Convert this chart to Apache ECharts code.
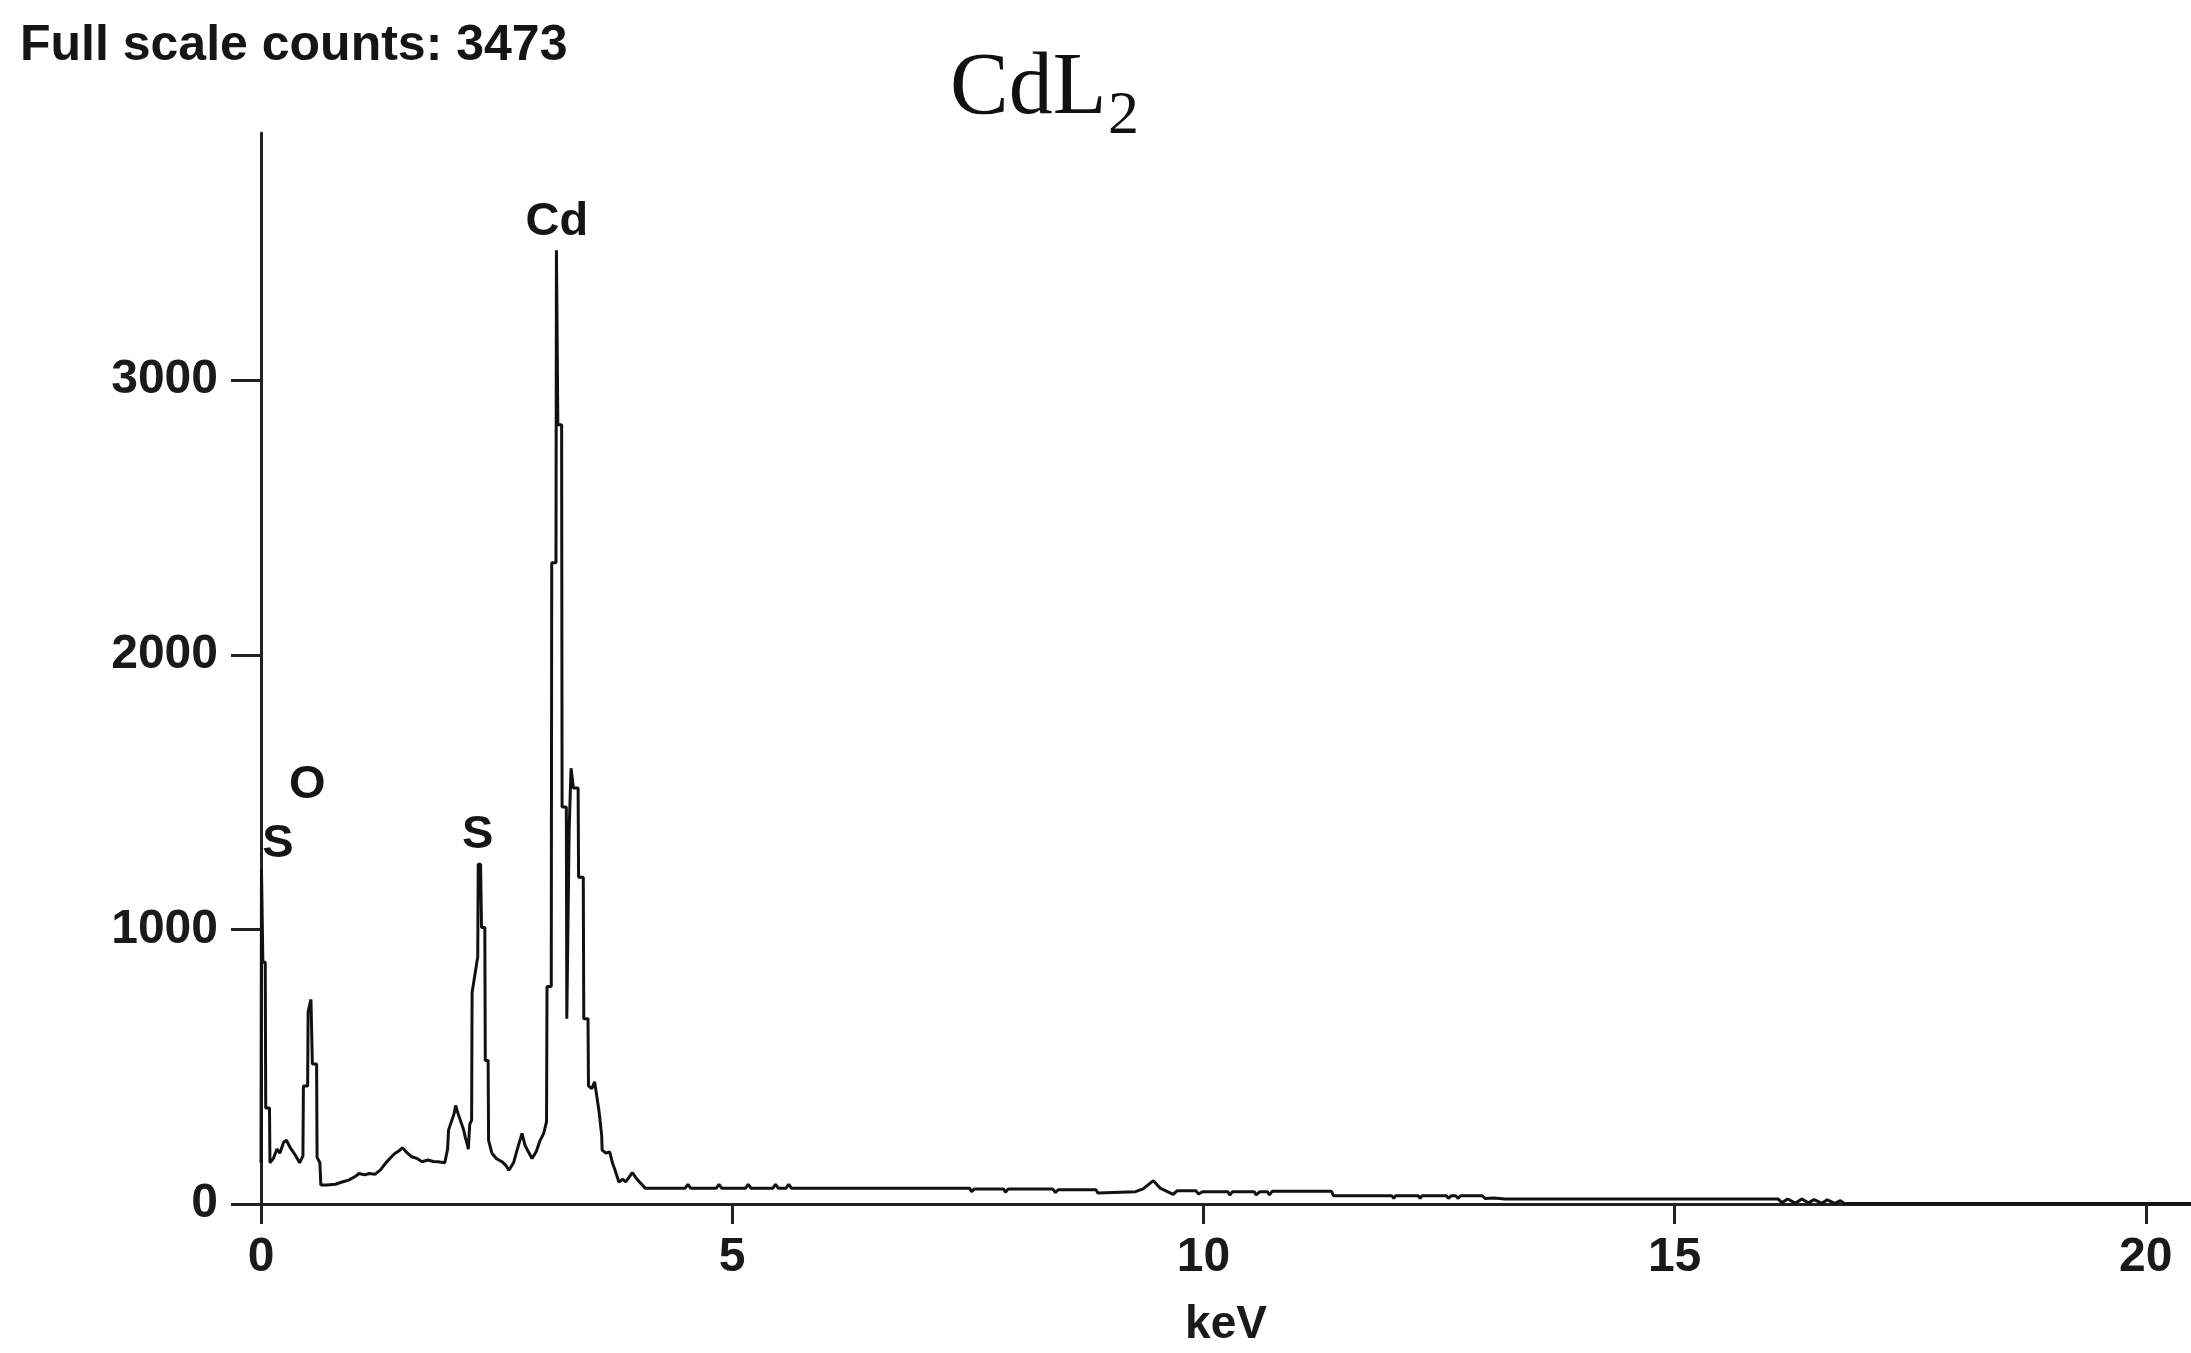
<!DOCTYPE html>
<html>
<head>
<meta charset="utf-8">
<script src="https://cdn.jsdelivr.net/npm/echarts@6/dist/echarts.min.js"></script>
<style>
  html, body { margin: 0; padding: 0; background: #fff; }
  #chart { width: 2191px; height: 1353px; }
</style>
</head>
<body>
<div id="chart"></div>
<script>
// EDS spectrum, energy (keV) vs counts
const energy = [
  0.000, 0.005, 0.015, 0.020, 0.045, 0.050, 0.090, 0.095, 0.130, 0.170,
  0.200, 0.240, 0.270, 0.310, 0.360, 0.410, 0.445, 0.450, 0.495, 0.500,
  0.530, 0.540, 0.545, 0.590, 0.595, 0.625, 0.635, 0.700, 0.790, 0.860,
  0.930, 1.000, 1.040, 1.100, 1.150, 1.210, 1.270, 1.320, 1.380, 1.420,
  1.470, 1.500, 1.540, 1.600, 1.660, 1.710, 1.770, 1.830, 1.880, 1.950,
  1.980, 1.990, 2.050, 2.065, 2.090, 2.120, 2.150, 2.170, 2.190, 2.200,
  2.215, 2.235, 2.240, 2.300, 2.305, 2.330, 2.340, 2.375, 2.380, 2.410,
  2.415, 2.450, 2.500, 2.557, 2.600, 2.630, 2.680, 2.720, 2.770, 2.800,
  2.830, 2.876, 2.920, 2.960, 3.000, 3.030, 3.035, 3.080, 3.085, 3.130,
  3.135, 3.145, 3.150, 3.190, 3.195, 3.240, 3.245, 3.265, 3.270, 3.285,
  3.290, 3.310, 3.315, 3.365, 3.370, 3.420, 3.425, 3.470, 3.475, 3.510,
  3.540, 3.560, 3.590, 3.615, 3.620, 3.660, 3.700, 3.730, 3.760, 3.797,
  3.840, 3.870, 3.910, 3.940, 3.980, 4.030, 4.080, 4.500, 4.530, 4.560,
  4.830, 4.860, 4.890, 5.140, 5.170, 5.200, 5.430, 5.460, 5.490, 5.570,
  5.600, 5.630, 7.520, 7.540, 7.570, 7.880, 7.900, 7.930, 8.400, 8.430,
  8.460, 8.860, 8.880, 8.900, 9.280, 9.360, 9.470, 9.540, 9.680, 9.720,
  9.920, 9.950, 9.990, 10.260, 10.280, 10.310, 10.540, 10.560, 10.600, 10.680,
  10.700, 10.730, 11.360, 11.380, 12.000, 12.020, 12.040, 12.280, 12.300, 12.320,
  12.580, 12.600, 12.630, 12.680, 12.700, 12.730, 12.960, 12.990, 13.080, 13.200,
  16.100, 16.140, 16.200, 16.280, 16.350, 16.420, 16.480, 16.560, 16.620, 16.700,
  16.760, 16.800, 20.480
];
const counts = [
  150, 1220, 1220, 880, 880, 350, 350, 150, 165, 200,
  185, 225, 232, 205, 180, 150, 175, 430, 430, 700,
  745, 745, 510, 510, 170, 150, 69, 69, 72, 80,
  87, 100, 111, 106, 111, 108, 125, 148, 170, 184,
  195, 205, 190, 172, 165, 154, 160, 155, 154, 150,
  200, 269, 330, 359, 330, 300, 270, 240, 215, 200,
  290, 305, 770, 900, 1237, 1237, 1007, 1007, 523, 523,
  232, 185, 165, 154, 140, 123, 150, 200, 257, 215,
  195, 166, 190, 230, 257, 300, 792, 792, 2335, 2335,
  3473, 3473, 2838, 2838, 1446, 1446, 675, 675, 1365, 1365,
  1587, 1587, 1515, 1515, 1190, 1190, 675, 675, 430, 420,
  445, 400, 330, 250, 196, 185, 190, 149, 120, 80,
  90, 81, 100, 114, 95, 75, 57, 57, 72, 57,
  57, 72, 57, 57, 72, 57, 57, 72, 57, 57,
  72, 57, 57, 45, 55, 55, 43, 55, 55, 42,
  52, 52, 40, 45, 45, 55, 85, 58, 35, 48,
  48, 36, 45, 45, 33, 45, 45, 33, 45, 45,
  33, 46, 46, 30, 30, 20, 30, 30, 20, 30,
  30, 20, 30, 30, 20, 30, 30, 20, 22, 18,
  18, 5, 18, 3, 18, 4, 16, 3, 15, 2,
  12, 2, 2
];

// peak labels: name, keV, counts (label centre)
const peakNames = ['S', 'O', 'S', 'Cd'];
const peakEnergy = [0.18, 0.49, 2.30, 3.14];
const peakCounts = [1310, 1525, 1345, 3575];

const xTicks = [0, 5, 10, 15, 20];
const yTicks = [0, 1000, 2000, 3000];

const spectrum = energy.map((e, i) => [e, counts[i]]);
const peaks = peakNames.map((n, i) => ({ name: n, value: [peakEnergy[i], peakCounts[i]] }));

const chart = echarts.init(document.getElementById('chart'));
const sans = '"Liberation Sans", Arial, sans-serif';
const serif = '"Liberation Serif", "Times New Roman", serif';
const axisColor = '#222';

chart.setOption({
  backgroundColor: '#ffffff',
  animation: false,
  graphic: [
    {
      type: 'text', left: 20, top: 21,
      style: { text: 'Full scale counts: 3473', fontFamily: sans, fontWeight: 'bold', fontSize: 50, fill: '#151515' }
    },
    {
      type: 'text', left: 950, top: 46,
      style: { text: 'CdL', fontFamily: serif, fontSize: 88, fill: '#111' }
    },
    {
      type: 'text', left: 1108, top: 86,
      style: { text: '2', fontFamily: serif, fontSize: 62, fill: '#111' }
    }
  ],
  grid: { left: 261, right: 0, top: 133, bottom: 148 },
  xAxis: {
    type: 'value',
    min: 0,
    max: 20.48,
    interval: 5,
    name: 'keV',
    nameLocation: 'middle',
    nameGap: 98,
    nameTextStyle: { fontFamily: sans, fontWeight: 'bold', fontSize: 46, color: '#1a1a1a' },
    axisLine: { onZero: false, lineStyle: { color: axisColor, width: 3 } },
    axisTick: { length: 20, customValues: xTicks, lineStyle: { color: axisColor, width: 3 } },
    axisLabel: {
      margin: 30, customValues: xTicks, formatter: v => String(v),
      fontFamily: sans, fontWeight: 'bold', fontSize: 48, color: '#1a1a1a'
    },
    splitLine: { show: false }
  },
  yAxis: {
    type: 'value',
    min: 0,
    max: 3900,
    interval: 1000,
    axisLine: { show: true, lineStyle: { color: axisColor, width: 3 } },
    axisTick: { show: true, length: 30, customValues: yTicks, lineStyle: { color: axisColor, width: 3 } },
    axisLabel: {
      margin: 43, customValues: yTicks, formatter: v => String(v),
      fontFamily: sans, fontWeight: 'bold', fontSize: 48, color: '#1a1a1a'
    },
    splitLine: { show: false }
  },
  series: [
    {
      type: 'line',
      data: spectrum,
      showSymbol: false,
      symbol: 'none',
      lineStyle: { color: '#111', width: 3 },
      z: 3
    },
    {
      type: 'scatter',
      data: peaks,
      symbolSize: 0,
      itemStyle: { color: '#111', opacity: 1 },
      label: {
        show: true, position: [0, 0], align: 'center', verticalAlign: 'middle', formatter: '{b}',
        fontFamily: sans, fontWeight: 'bold', fontSize: 47, color: '#151515', opacity: 1
      },
      z: 4
    }
  ]
});
</script>
</body>
</html>
